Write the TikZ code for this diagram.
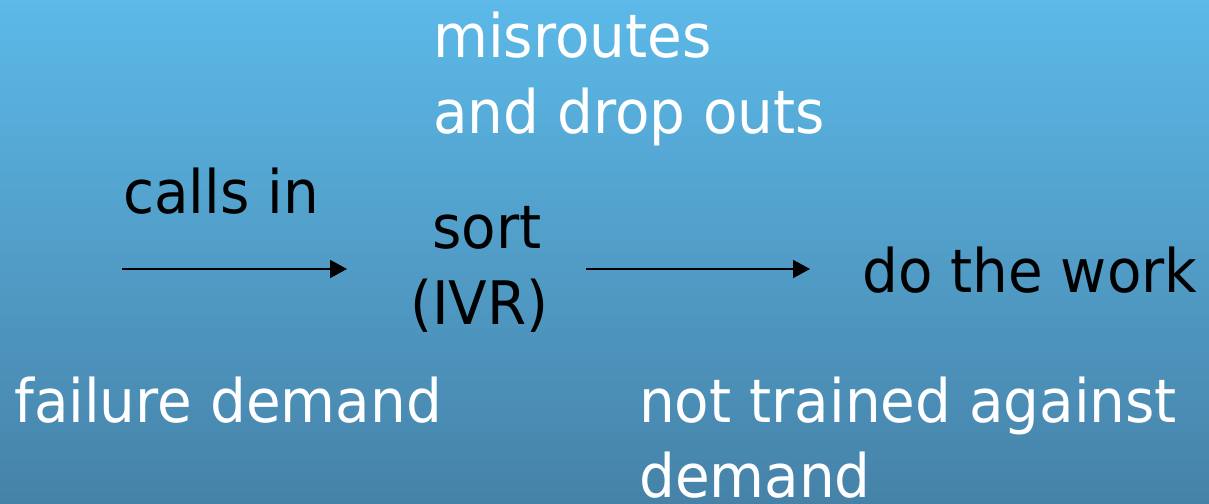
\documentclass[tikz,border=0pt]{standalone}
\usepackage{fontspec}
\setmainfont[FakeStretch=0.94]{DejaVu Sans}
\usetikzlibrary{arrows.meta}
\definecolor{bgtop}{RGB}{92,185,232}
\definecolor{bgbot}{RGB}{70,130,168}
\begin{document}
\begin{tikzpicture}[x=1pt,y=1pt,
  lbl/.style={anchor=base west,inner sep=0pt,font=\fontsize{60}{76}\selectfont},
  wl/.style={lbl,text=white},
  bl/.style={lbl,text=black},
  flow/.style={line width=2pt,-{Triangle[length=17pt,width=18pt]}}]
\shade[top color=bgtop,bottom color=bgbot] (0,0) rectangle (1209,-503);
\useasboundingbox (0,0) rectangle (1209,-503);
\node[wl] (mis) at (433,-57) {misroutes};
\node[wl] (drop) at (433,-133) {and drop outs};
\node[bl] (calls) at (123,-213) {calls in};
\node[bl] (sort) at (432,-248) {sort};
\node[bl] (ivr) at (410,-324) {(IVR)};
\node[bl] (work) at (862,-292) {do the work};
\node[wl] (fail) at (14,-422) {failure demand};
\node[wl] (nta) at (639,-422) {not trained against};
\node[wl] (dem) at (639,-497) {demand};
\coordinate (a1s) at (122,-269);
\coordinate (a1e) at (347,-269);
\coordinate (a2s) at (586,-269);
\coordinate (a2e) at (810,-269);
\draw[flow] (a1s) -- (a1e);
\draw[flow] (a2s) -- (a2e);
\end{tikzpicture}
\end{document}
